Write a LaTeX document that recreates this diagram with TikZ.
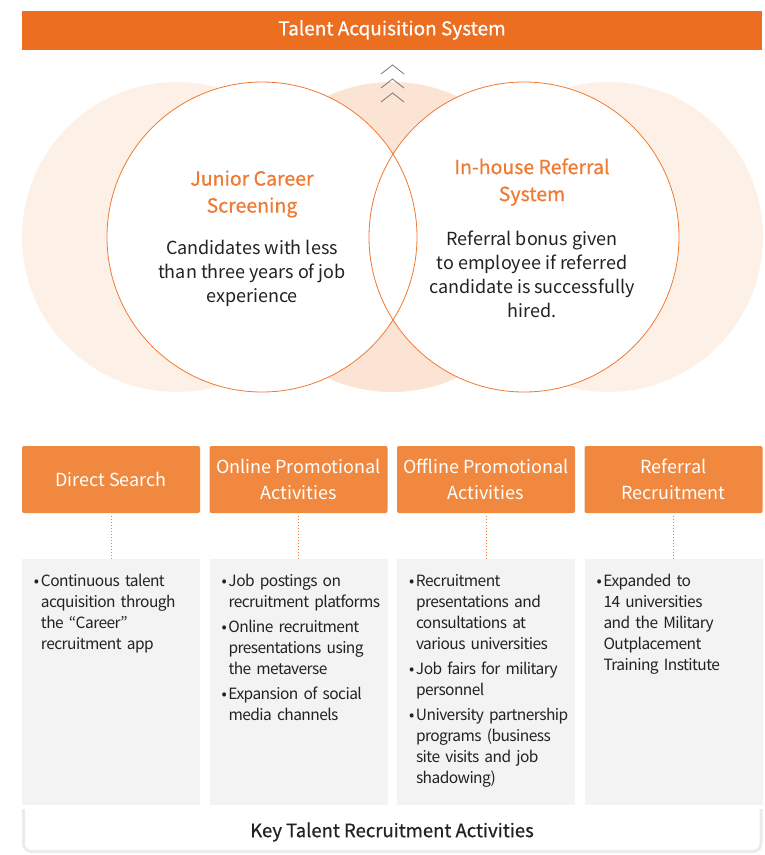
\documentclass[tikz,border=0pt]{standalone}
\usepackage{fontspec}
\setmainfont{Noto Sans CJK KR}
\newfontfamily\medfont{Noto Sans CJK KR}[FakeBold=0.6]
\newfontfamily\cellfont{Noto Sans CJK KR}[LetterSpace=-3.5]
\usetikzlibrary{positioning}

\definecolor{topor}{HTML}{EC6E21}
\definecolor{boxor}{HTML}{F0883F}
\definecolor{lineor}{HTML}{EF7A33}
\definecolor{fadeA}{HTML}{FDF1E7}
\definecolor{fadeB}{HTML}{FCE4D4}
\definecolor{cellgray}{HTML}{F3F3F3}
\definecolor{framegray}{HTML}{EBEBEB}
\definecolor{chevgray}{HTML}{777777}
\definecolor{txt}{HTML}{222222}

\newcommand\itembul[1]{\hyphenpenalty=10000\hangindent=7pt\hangafter=1\noindent\makebox[7pt][l]{\textbullet}#1\par\vspace{4pt}}

\begin{document}
\begin{tikzpicture}[x=1pt,y=-1pt,
    topbar/.style={fill=topor,minimum width=740pt,minimum height=39pt,inner sep=0pt,text=white,font=\fontsize{19}{24}\selectfont\medfont},
    ring/.style={circle,fill=white,minimum size=310pt,inner sep=0pt},
    ringline/.style={draw=lineor,line width=0.8pt},
    ringtitle/.style={text=lineor,align=center,font=\fontsize{19.5}{27}\selectfont\medfont},
    ringtext/.style={text=txt,align=center,font=\fontsize{18}{24}\selectfont},
    headbox/.style={fill=boxor,rounded corners=2pt,minimum width=178pt,minimum height=67pt,inner sep=0pt,text=white,align=center,font=\fontsize{18}{26}\selectfont},
    cellbox/.style={fill=cellgray,minimum width=178pt,minimum height=246pt,inner sep=0pt},
    celltext/.style={anchor=north west,inner sep=0pt,text width=160pt,align=left,text=txt,font=\fontsize{15.5}{21}\selectfont\cellfont},
    dotline/.style={draw=lineor,line width=1pt,dash pattern=on 1pt off 2pt}]

    \useasboundingbox (0,0) rectangle (764,855);

    \node[topbar] (tas) at (392,30) {Talent Acquisition System};

    %うしろの薄い円
    \fill[fadeA] (177,237) circle [radius=155pt];
    \fill[fadeA] (608,237) circle [radius=155pt];
    \fill[fadeB] (392,237) circle [radius=155pt];

    \foreach \y in {65,79,93}
        \draw[chevgray,line width=0.8pt] (381,\y+9)--(392.5,\y)--(404,\y+9); %上向きの矢印

    %白い円と線
    \node[ring] (jcs) at (262,237) {};
    \node[ring] (hrs) at (524,237) {};
    \draw[ringline] (jcs.center) circle [radius=155pt];
    \draw[ringline] (hrs.center) circle [radius=155pt];

    \node[ringtitle] (jcstitle) at (252,194) {Junior Career\\Screening};
    \node[ringtext] (jcstext) at (252,273) {Candidates with less\\than three years of job\\experience};
    \node[ringtitle] (hrstitle) at (532,182) {In-house Referral\\System};
    \node[ringtext] (hrstext) at (532,274) {Referral bonus given\\to employee if referred\\candidate is successfully\\hired.};

    %下の四つの箱
    \node[headbox] (ds)  at (111,479.5)   {Direct Search};
    \node[headbox] (onp) at (298.5,479.5) {Online Promotional\\Activities};
    \node[headbox] (ofp) at (486,479.5)   {Offline Promotional\\Activities};
    \node[headbox] (rr)  at (673.5,479.5) {Referral\\Recruitment};

    \node[cellbox] (dscell)  at (111,682)   {};
    \node[cellbox] (onpcell) at (298.5,682) {};
    \node[cellbox] (ofpcell) at (486,682)   {};
    \node[cellbox] (rrcell)  at (673.5,682) {};

    \foreach \a/\b in {ds/dscell,onp/onpcell,ofp/ofpcell,rr/rrcell}
        \draw[dotline] ([yshift=-3pt]\a.south) -- (\b.north); %点線

    \node[celltext] (dslist) at ([xshift=12pt,yshift=-15pt]dscell.north west) {%
        \itembul{Continuous talent\newline acquisition through\newline the “Career”\newline recruitment app}};
    \node[celltext] (onplist) at ([xshift=12pt,yshift=-15pt]onpcell.north west) {%
        \itembul{Job postings on\newline recruitment platforms}
        \itembul{Online recruitment\newline presentations using\newline the metaverse}
        \itembul{Expansion of social\newline media channels}};
    \node[celltext] (ofplist) at ([xshift=12pt,yshift=-15pt]ofpcell.north west) {%
        \itembul{Recruitment\newline presentations and\newline consultations at\newline various universities}
        \itembul{Job fairs for military\newline personnel}
        \itembul{University partnership\newline programs (business\newline site visits and job\newline shadowing)}};
    \node[celltext] (rrlist) at ([xshift=12pt,yshift=-15pt]rrcell.north west) {%
        \itembul{Expanded to\newline 14 universities\newline and the Military\newline Outplacement\newline Training Institute}};

    %いちばん下の枠
    \draw[framegray,line width=3pt,rounded corners=8pt] (23.5,809)--(23.5,851.5)--(761,851.5)--(761,809);
    \node[text=txt,font=\fontsize{18.5}{24}\selectfont\medfont] (kta) at (392,832) {Key Talent Recruitment Activities};

\end{tikzpicture}
\end{document}
